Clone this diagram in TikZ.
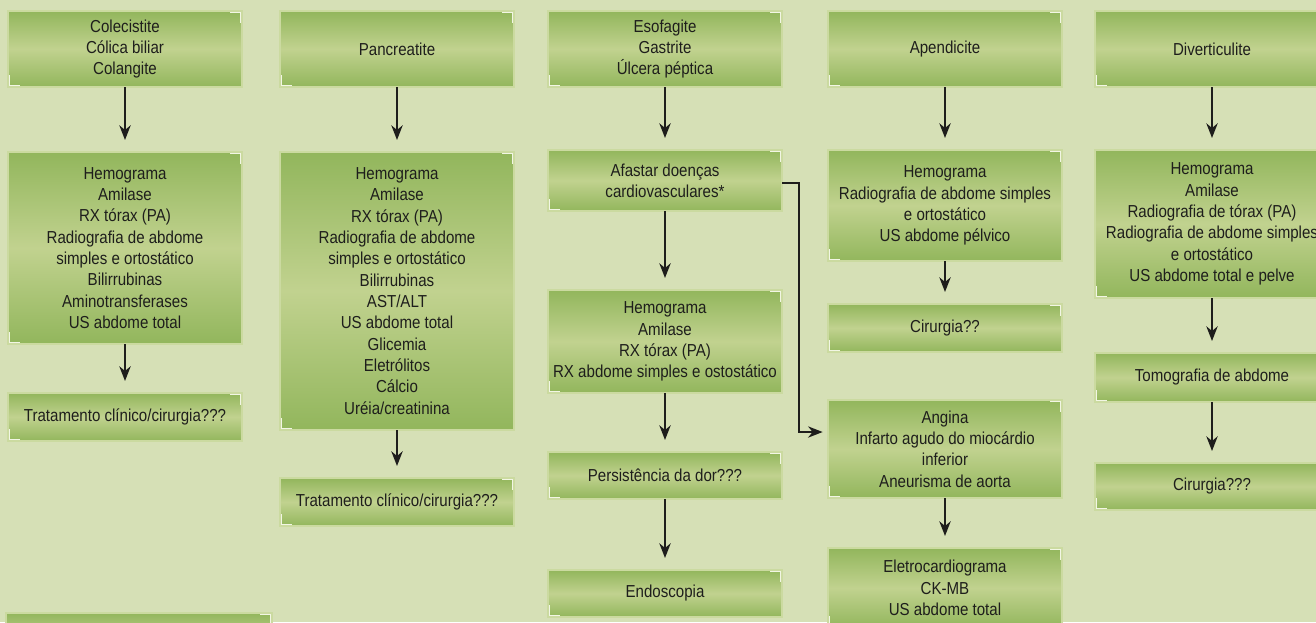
\documentclass[tikz,border=0pt]{standalone}
\usepackage{fontspec}
\setmainfont{Liberation Sans}[FakeStretch=0.87]
\usetikzlibrary{arrows.meta, positioning}
\definecolor{fundo}{RGB}{214,224,182}
\definecolor{verdeescuro}{RGB}{146,182,92}
\definecolor{verdeclaro}{RGB}{193,210,143}
\definecolor{borda}{RGB}{203,218,160}
\definecolor{brilho}{RGB}{242,246,228}
\definecolor{tinta}{RGB}{30,30,28}

\begin{document}
\begin{tikzpicture}[
    x=0.75pt, y=-0.75pt,
    etapa/.style={rectangle, draw=borda, line width=1.5pt, outer sep=0pt,
        top color=verdeescuro, bottom color=verdeescuro, middle color=verdeclaro,
        path picture={
            \draw[brilho, line width=2.5pt] ([xshift=-9pt]path picture bounding box.north east) -- (path picture bounding box.north east) -- ([yshift=-9pt]path picture bounding box.north east);
            \draw[brilho, line width=2.5pt] ([xshift=9pt]path picture bounding box.south west) -- (path picture bounding box.south west) -- ([yshift=9pt]path picture bounding box.south west);
        },
        minimum width=175.5pt, align=center, text=tinta, inner sep=2pt},
    seta/.style={-{Stealth[length=11pt, width=8.5pt, inset=3.5pt]}, line width=1.5pt, draw=tinta, shorten >=9pt},
    every node/.append style={font=\fontsize{13}{16}\selectfont}
]
    \useasboundingbox (0,0) rectangle (1316,622);
    \clip (0,0) rectangle (1316,622);
    \fill[fundo] (0,0) rectangle (1316,622);

    % Colecistite
    \node[etapa, minimum height=57pt] (colecistite) at (125,49) {Colecistite\\Cólica biliar\\Colangite};
    \node[etapa, minimum height=144pt, below=48.75pt of colecistite] (hemo1) {Hemograma\\Amilase\\RX tórax (PA)\\Radiografia de abdome\\simples e ortostático\\Bilirrubinas\\Aminotransferases\\US abdome total};
    \node[etapa, minimum height=36pt, below=36.75pt of hemo1] (trat1) {Tratamento clínico/cirurgia???};
    \node[etapa, minimum width=199.5pt, minimum height=40pt, anchor=north] (nota) at (139,613) {};

    % Pancreatite
    \node[etapa, minimum height=57pt] (pancreatite) at (397,49) {Pancreatite};
    \node[etapa, minimum height=208.5pt, below=48.75pt of pancreatite] (hemo2) {Hemograma\\Amilase\\RX tórax (PA)\\Radiografia de abdome\\simples e ortostático\\Bilirrubinas\\AST/ALT\\US abdome total\\Glicemia\\Eletrólitos\\Cálcio\\Uréia/creatinina};
    \node[etapa, minimum height=36pt, below=36pt of hemo2] (trat2) {Tratamento clínico/cirurgia???};

    % Esofagite
    \node[etapa, minimum height=57pt] (esofagite) at (665,49) {Esofagite\\Gastrite\\Úlcera péptica};
    \node[etapa, minimum height=45.75pt, below=47.25pt of esofagite] (afastar) {Afastar doenças\\cardiovasculares*};
    \node[etapa, minimum height=77.25pt, below=59.25pt of afastar] (hemo3) {Hemograma\\Amilase\\RX tórax (PA)\\RX abdome simples e ostostático};
    \node[etapa, minimum height=35.25pt, below=44.25pt of hemo3] (persistencia) {Persistência da dor???};
    \node[etapa, minimum height=35.25pt, below=53.25pt of persistencia] (endoscopia) {Endoscopia};

    % Apendicite
    \node[etapa, minimum height=57pt] (apendicite) at (945,49) {Apendicite};
    \node[etapa, minimum height=83.25pt, below=47.25pt of apendicite] (hemo4) {Hemograma\\Radiografia de abdome simples\\e ortostático\\US abdome pélvico};
    \node[etapa, minimum height=36pt, below=32.25pt of hemo4] (cirurgia4) {Cirurgia??};
    \node[etapa, minimum height=73.5pt, below=36pt of cirurgia4] (angina) {Angina\\Infarto agudo do miocárdio\\inferior\\Aneurisma de aorta};
    \node[etapa, minimum height=60pt, below=37.5pt of angina] (eletro) {Eletrocardiograma\\CK-MB\\US abdome total};

    % Diverticulite
    \node[etapa, minimum height=57pt] (diverticulite) at (1212,49) {Diverticulite};
    \node[etapa, minimum height=111pt, below=47.25pt of diverticulite] (hemo5) {Hemograma\\Amilase\\Radiografia de tórax (PA)\\Radiografia de abdome simples\\e ortostático\\US abdome total e pelve};
    \node[etapa, minimum height=36.75pt, below=41.25pt of hemo5] (tomografia) {Tomografia de abdome};
    \node[etapa, minimum height=35.25pt, below=45.75pt of tomografia] (cirurgia5) {Cirurgia???};

    % Fluxo
    \draw[seta] (colecistite) -- (hemo1);
    \draw[seta] (hemo1) -- (trat1);
    \draw[seta] (pancreatite) -- (hemo2);
    \draw[seta] (hemo2) -- (trat2);
    \draw[seta] (esofagite) -- (afastar);
    \draw[seta] (afastar) -- (hemo3);
    \draw[seta] (hemo3) -- (persistencia);
    \draw[seta] (persistencia) -- (endoscopia);
    \draw[seta] (apendicite) -- (hemo4);
    \draw[seta] (hemo4) -- (cirurgia4);
    \draw[seta] (angina) -- (eletro);
    \draw[seta] (diverticulite) -- (hemo5);
    \draw[seta] (hemo5) -- (tomografia);
    \draw[seta] (tomografia) -- (cirurgia5);

    % Desvio para causas cardiovasculares
    \draw[seta, line width=1.1pt, shorten >=4pt] ([yshift=-2pt]afastar.east) -- ++(17,0)
        |- ([yshift=12.75pt]angina.west);
\end{tikzpicture}
\end{document}
